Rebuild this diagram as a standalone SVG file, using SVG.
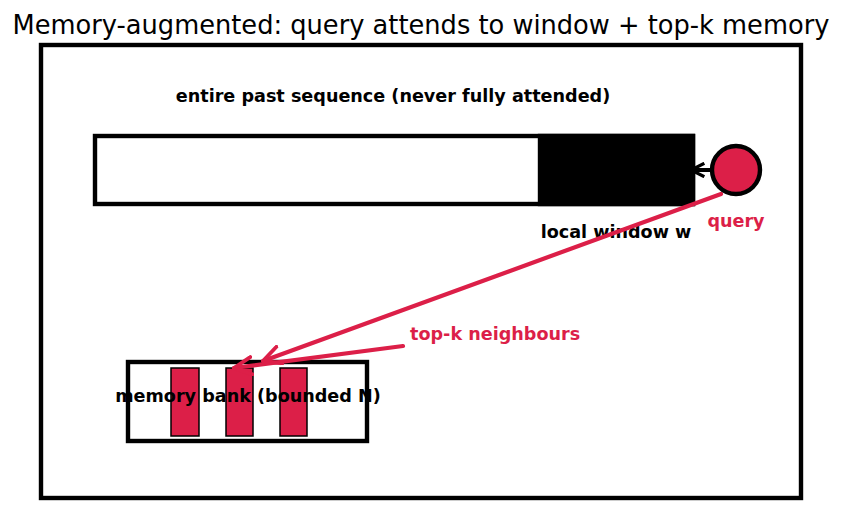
<svg xmlns="http://www.w3.org/2000/svg" width="841" height="512" viewBox="0 0 841 512">
<style>
text{font-family:"DejaVu Sans",sans-serif}
.b{font-weight:bold;font-size:17.6px}
.red{fill:#dc1f48}
.frame{fill:none;stroke:#000;stroke-width:4.4}
.bar{fill:#dc1f48;stroke:#000;stroke-width:1.5}
.conn{fill:none;stroke:#dc1f48;stroke-width:4.2;stroke-linecap:round}
</style>
<defs>
<marker id="ar" viewBox="0 0 12 12" refX="11" refY="6" markerWidth="5" markerHeight="5" orient="auto" markerUnits="strokeWidth">
<path d="M1,1 L11,6 L1,11" fill="none" stroke="#dc1f48" stroke-width="2.2" stroke-linecap="round" stroke-linejoin="miter"/>
</marker>
<marker id="ak" viewBox="0 0 12 12" refX="11" refY="6" markerWidth="4" markerHeight="4" orient="auto" markerUnits="strokeWidth">
<path d="M1,1 L11,6 L1,11" fill="none" stroke="#000" stroke-width="2.5"/>
</marker>
</defs>
<rect width="841" height="512" fill="#fff"/>
<text x="421" y="34" text-anchor="middle" font-size="25.7">Memory-augmented: query attends to window + top-k memory</text>
<rect class="frame" x="41" y="45" width="760" height="453"/>
<g id="sequence">
<rect class="frame" x="95" y="136" width="598" height="68" fill="#fff"/>
<text class="b" x="393" y="102" text-anchor="middle">entire past sequence (never fully attended)</text>
</g>
<g id="window">
<rect x="540" y="136" width="153" height="68" fill="#000" stroke="#000" stroke-width="4.4"/>
<text class="b" x="616" y="238" text-anchor="middle">local window w</text>
</g>
<g id="memory">
<rect class="frame" x="128" y="362" width="239" height="79" fill="#fff"/>
<rect class="bar" x="171" y="368" width="28" height="68"/>
<rect class="bar" x="226" y="368" width="27" height="68"/>
<rect class="bar" x="280" y="368" width="27" height="68"/>
<text class="b" x="248" y="402" text-anchor="middle">memory bank (bounded N)</text>
</g>
<g id="connectors">
<line x1="712" y1="170" x2="691" y2="170" stroke="#000" stroke-width="4" marker-end="url(#ak)"/>
<line class="conn" x1="721" y1="194" x2="263" y2="361" marker-end="url(#ar)"/>
<line class="conn" x1="403" y1="346" x2="234" y2="368" marker-end="url(#ar)"/>
<text class="b red" x="410" y="340">top-k neighbours</text>
</g>
<g id="query">
<circle cx="736" cy="170" r="24" fill="#dc1f48" stroke="#000" stroke-width="4.4"/>
<text class="b red" x="736" y="227" text-anchor="middle">query</text>
</g>
</svg>
